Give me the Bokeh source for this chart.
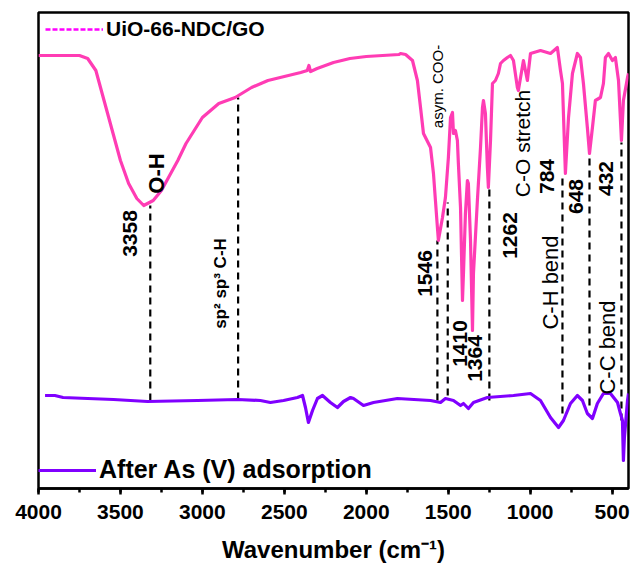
import math
from bokeh.plotting import figure
from bokeh.models import Range1d, SingleIntervalTicker, Legend, LegendItem, ColumnDataSource
from bokeh.core.properties import value
from bokeh.embed import file_html
from bokeh.resources import INLINE

# ---------------- data (wavenumber in cm-1, transmittance in a.u.) ----------------
pink_wn = [4000, 3900, 3750, 3700, 3650, 3600, 3550, 3500, 3450, 3400, 3358, 3300, 3250, 3200,
           3150, 3100, 3000, 2900, 2800, 2700, 2600, 2500, 2400, 2360, 2350, 2340, 2300, 2200,
           2100, 2000, 1900, 1800, 1791, 1760, 1718, 1688, 1669, 1651, 1608, 1590, 1578, 1566,
           1560, 1535, 1517, 1499, 1486, 1474, 1468, 1456, 1444, 1438, 1425, 1413, 1407, 1395,
           1383, 1377, 1364, 1352, 1346, 1322, 1303, 1291, 1285, 1273, 1261, 1255, 1242, 1230,
           1212, 1194, 1181, 1163, 1139, 1120, 1102, 1078, 1072, 1041, 1017, 998, 937, 876,
           834, 815, 803, 785, 766, 742, 712, 693, 675, 651, 638, 620, 602, 571, 553, 541,
           522, 498, 480, 461, 443, 431, 406, 400]
pink_t = [433, 433, 433, 430, 418, 388, 358, 328, 305, 290, 283, 288, 298, 313,
          328, 345, 371, 385, 391, 401, 408, 412, 416, 418, 423, 417, 420, 426,
          430, 432, 433, 434, 435, 434, 428, 408, 381, 355, 341, 315, 288, 261,
          248, 271, 291, 331, 371, 376, 355, 358, 348, 325, 281, 188, 215, 275,
          308, 305, 248, 158, 215, 288, 341, 381, 388, 375, 321, 301, 348, 405,
          408, 415, 425, 428, 431, 433, 428, 401, 398, 428, 408, 435, 438, 435,
          441, 418, 405, 315, 371, 415, 435, 431, 405, 361, 335, 361, 388, 391, 405, 431,
          435, 428, 431, 408, 348, 388, 411, 415]

purple_wn = [3960, 3900, 3850, 3700, 3542, 3335, 3030, 2786, 2646, 2585, 2505, 2420, 2389,
             2371, 2353, 2328, 2298, 2267, 2219, 2176, 2139, 2096, 2078, 2017, 1956, 1810,
             1608, 1547, 1517, 1468, 1425, 1407, 1377, 1346, 1261, 1102, 998, 937, 876, 827,
             797, 754, 712, 681, 651, 620, 590, 553, 510, 467, 449, 437, 431, 425, 406, 400]
purple_t = [93, 93, 91, 90, 89, 87, 88, 89, 88, 86, 88, 91, 93,
            81, 66, 78, 90, 93, 86, 81, 87, 91, 90, 83, 86, 90,
            88, 86, 90, 88, 83, 85, 80, 86, 91, 93, 95, 88, 71, 61,
            68, 85, 93, 88, 75, 70, 85, 95, 95, 86, 75, 68, 28, 51, 88, 95]

# marker (dashed) lines
mark_wn = [3318, 2782, 1566, 1503, 1249, 803, 638, 443]
mark_top = [283, 391, 248, 286, 301, 311, 336, 346]
mark_bottom = [88, 89, 88, 93, 88, 75, 83, 68]

# peak number labels
num_text = ["3358", "1546", "1410", "1364", "1262", "784", "648", "432"]
num_x = [3439, 1639, 1431, 1334, 1126, 895, 718, 535]
num_y = [255, 215, 145, 130, 253, 312, 292, 310]

# assignment labels (bold)
bold_text = ["O-H", "sp\u00b2 sp\u00b3 C-H"]
bold_x = [3280, 2890]
bold_y = [315, 205]
bold_size = ["22px", "17px"]

# assignment labels (regular)
reg_text = ["asym. COO-", "C-O stretch", "C-H bend", "C-C bend"]
reg_x = [1566, 1047, 876, 529]
reg_y = [402, 345, 206, 141]
reg_size = ["15px", "21px", "22px", "22px"]

xticks_interval = 500
series_names = ["UiO-66-NDC/GO", "After As (V) adsorption"]
PINK = "#ff3cb4"
PURPLE = "#8000ff"
FONT = "Liberation Sans"

p = figure(width=630, height=568, x_range=Range1d(4000, 400), y_range=Range1d(0, 476),
           output_backend="svg", toolbar_location=None, y_axis_location=None,
           min_border_left=38, min_border_right=2, min_border_top=12, min_border_bottom=80)
p.grid.visible = False
p.outline_line_color = "black"
p.outline_line_width = 2.5
p.background_fill_color = "white"
p.border_fill_color = "white"

# dashed marker lines
p.segment(x0=mark_wn, y0=mark_bottom, x1=mark_wn, y1=mark_top, line_color="black",
          line_width=2.2, line_dash="7 5")

r_pink = p.line(pink_wn, pink_t, line_color=PINK, line_width=3.2, line_join="round")
r_purple = p.line(purple_wn, purple_t, line_color=PURPLE, line_width=3.2, line_join="round")
# legend-only renderer (no visible data)
r_dummy = p.line(x=[float("nan")], y=[float("nan")], line_color="#ff00ff", line_width=2.5,
                 line_dash="5 2")

num_src = ColumnDataSource(dict(x=num_x, y=num_y, text=num_text))
p.text(x="x", y="y", text="text", source=num_src, angle=math.pi / 2, text_align="center",
       text_baseline="middle", text_font=value(FONT), text_font_style="bold",
       text_font_size="21px", text_color="black")
bold_src = ColumnDataSource(dict(x=bold_x, y=bold_y, text=bold_text, size=bold_size))
p.text(x="x", y="y", text="text", source=bold_src, angle=math.pi / 2, text_align="center",
       text_baseline="middle", text_font=value(FONT), text_font_style="bold",
       text_font_size="size", text_color="black")
reg_src = ColumnDataSource(dict(x=reg_x, y=reg_y, text=reg_text, size=reg_size))
p.text(x="x", y="y", text="text", source=reg_src, angle=math.pi / 2, text_align="center",
       text_baseline="middle", text_font=value(FONT), text_font_style="normal",
       text_font_size="size", text_color="black")

# x axis
ax = p.xaxis[0]
ax.ticker = SingleIntervalTicker(interval=xticks_interval, num_minor_ticks=2)
ax.axis_line_width = 2.5
ax.axis_line_color = "black"
ax.major_tick_line_width = 2.5
ax.minor_tick_line_width = 2.5
ax.major_tick_out = 6
ax.major_tick_in = 0
ax.minor_tick_out = 4
ax.minor_tick_in = 0
ax.major_label_text_font = FONT
ax.major_label_text_font_style = "bold"
ax.major_label_text_font_size = "21px"
ax.major_label_text_color = "black"
ax.major_label_standoff = 10
ax.axis_label = "Wavenumber (cm\u207b\u00b9)"
ax.axis_label_text_font = FONT
ax.axis_label_text_font_style = "bold"
ax.axis_label_text_font_size = "24px"
ax.axis_label_text_color = "black"
ax.axis_label_standoff = 14

leg_top = Legend(items=[LegendItem(label=series_names[0], renderers=[r_dummy])],
                 location=(7, 447), orientation="vertical")
leg_bot = Legend(items=[LegendItem(label=series_names[1], renderers=[r_purple])],
                 location=(0, 4), orientation="vertical")
for lg in (leg_top, leg_bot):
    lg.glyph_width = 58
    lg.glyph_height = 20
    lg.label_height = 20
    lg.padding = 0
    lg.margin = 0
    lg.spacing = 0
    lg.label_standoff = 3
    lg.border_line_alpha = 0
    lg.background_fill_alpha = 0
    lg.label_text_font = FONT
    lg.label_text_font_style = "bold"
    lg.label_text_color = "black"
leg_top.label_text_font_size = "21px"
leg_bot.label_text_font_size = "25px"
p.add_layout(leg_top)
p.add_layout(leg_bot)

open("out.html", "w").write(file_html(p, INLINE))
